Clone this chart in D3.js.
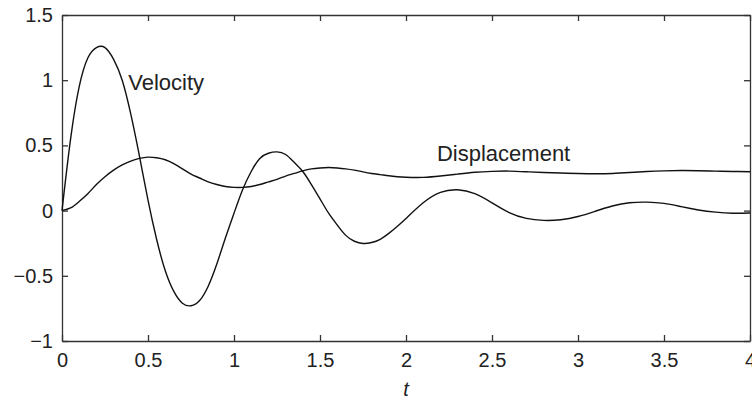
<!DOCTYPE html>
<html>
<head>
  <meta charset="utf-8">
  <script src="https://d3js.org/d3.v7.min.js"></script>
  <style>
    body { margin: 0; background: #fff; }
    svg text { font-family: "Liberation Sans", Arial, sans-serif; fill: #222; }
    .axis path, .axis line { stroke: #333; stroke-width: 1.3; }
  </style>
</head>
<body>
<svg id="chart" width="752" height="403"></svg>
<script>
  // time samples (finer near the start where the curves move fast)
  const tValues = [0, 0.05, 0.1, 0.15, 0.2, 0.25, 0.3, 0.35, 0.4, 0.45, 0.5, 0.55, 0.6, 0.65, 0.7, 0.75,
    0.8, 0.85, 0.9, 0.95, 1.0, 1.05, 1.1, 1.15, 1.2, 1.25, 1.3, 1.35, 1.4, 1.45, 1.5, 1.55, 1.6, 1.65,
    1.7, 1.75, 1.8, 1.85, 1.9, 1.95, 2.0, 2.1, 2.2, 2.3, 2.4, 2.5, 2.6, 2.7, 2.8, 2.9, 3.0, 3.1, 3.2,
    3.3, 3.4, 3.5, 3.6, 3.7, 3.8, 3.9, 4.0];

  const velocity = [0, 0.55, 0.95, 1.17, 1.25, 1.25, 1.16, 1.0, 0.74, 0.42, 0.08, -0.22, -0.46, -0.62, -0.71, -0.73,
    -0.69, -0.58, -0.41, -0.21, -0.02, 0.16, 0.30, 0.40, 0.44, 0.45, 0.43, 0.37, 0.30, 0.20, 0.09, -0.02, -0.11, -0.19,
    -0.235, -0.252, -0.245, -0.22, -0.175, -0.12, -0.06, 0.06, 0.14, 0.16, 0.13, 0.06, -0.015, -0.06, -0.075, -0.07, -0.045, -0.005, 0.035,
    0.06, 0.065, 0.055, 0.03, 0.005, -0.012, -0.02, -0.018];

  const displacement = [0, 0.02, 0.07, 0.13, 0.20, 0.26, 0.31, 0.35, 0.38, 0.40, 0.41, 0.405, 0.39, 0.36, 0.32, 0.28,
    0.25, 0.22, 0.20, 0.185, 0.178, 0.178, 0.185, 0.20, 0.22, 0.24, 0.265, 0.285, 0.305, 0.32, 0.327, 0.33, 0.327, 0.32,
    0.31, 0.297, 0.285, 0.276, 0.267, 0.26, 0.256, 0.255, 0.265, 0.28, 0.294, 0.301, 0.303, 0.298, 0.292, 0.288, 0.285, 0.283, 0.285,
    0.292, 0.30, 0.305, 0.307, 0.306, 0.303, 0.30, 0.298];

  const xTicks = [0, 0.5, 1, 1.5, 2, 2.5, 3, 3.5, 4];
  const yTicks = [-1, -0.5, 0, 0.5, 1, 1.5];

  const svg = d3.select("svg#chart");
  const margin = { top: 15, right: 2, bottom: 62, left: 62 };
  const width = +svg.attr("width");
  const height = +svg.attr("height");
  const chartWidth = width - margin.left - margin.right;
  const chartHeight = height - margin.top - margin.bottom;

  const xScale = d3.scaleLinear().domain([0, 4]).range([0, chartWidth]);
  const yScale = d3.scaleLinear().domain([-1, 1.5]).range([chartHeight, 0]);

  const plot = svg.append("g").attr("transform", `translate(${margin.left},${margin.top})`);
  const fmt = d3.format("~g");

  // axes with inward ticks, box on all four sides
  const styleText = g => g.selectAll("text").attr("font-size", 20).attr("font-family", null).attr("fill", "#222");

  plot.append("g").attr("class", "axis")
    .attr("transform", `translate(0,${chartHeight})`)
    .call(d3.axisBottom(xScale).tickValues(xTicks).tickFormat(fmt).tickSizeInner(-6).tickSizeOuter(0).tickPadding(12))
    .call(styleText);

  plot.append("g").attr("class", "axis")
    .call(d3.axisLeft(yScale).tickValues(yTicks).tickFormat(fmt).tickSizeInner(-6).tickSizeOuter(0).tickPadding(9))
    .call(styleText);

  plot.append("g").attr("class", "axis")
    .call(d3.axisTop(xScale).tickValues(xTicks).tickFormat("").tickSizeInner(-6).tickSizeOuter(0));

  plot.append("g").attr("class", "axis")
    .attr("transform", `translate(${chartWidth},0)`)
    .call(d3.axisRight(yScale).tickValues(yTicks).tickFormat("").tickSizeInner(-6).tickSizeOuter(0));

  // curves, smooth spline through the read-off samples
  const line = d3.line().curve(d3.curveNatural)
    .x(d => xScale(d[0]))
    .y(d => yScale(d[1]));

  plot.append("path")
    .datum(d3.zip(tValues, velocity))
    .attr("fill", "none").attr("stroke", "#111").attr("stroke-width", 1.4)
    .attr("d", line);

  plot.append("path")
    .datum(d3.zip(tValues, displacement))
    .attr("fill", "none").attr("stroke", "#111").attr("stroke-width", 1.4)
    .attr("d", line);

  // labels
  plot.append("text").attr("x", xScale(0.385)).attr("y", yScale(0.925))
    .attr("font-size", 22).text("Velocity");

  plot.append("text").attr("x", xScale(2.18)).attr("y", yScale(0.377))
    .attr("font-size", 22).text("Displacement");

  svg.append("text")
    .attr("x", margin.left + chartWidth / 2).attr("y", 396)
    .attr("text-anchor", "middle").attr("font-size", 20).attr("font-style", "italic")
    .text("t");
</script>
</body>
</html>
